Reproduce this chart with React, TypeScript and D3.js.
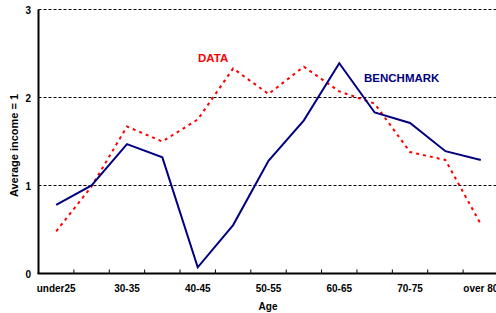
import React from "react";
import * as d3 from "d3";

const categories = ["under25", "25-30", "30-35", "35-40", "40-45", "45-50", "50-55", "55-60", "60-65", "65-70", "70-75", "75-80", "over 80"];
const benchmark = [0.78, 1.0, 1.47, 1.32, 0.07, 0.55, 1.28, 1.74, 2.39, 1.83, 1.71, 1.39, 1.29];
const dataSeries = [0.48, 0.99, 1.67, 1.5, 1.75, 2.33, 2.04, 2.35, 2.07, 1.93, 1.38, 1.29, 0.56];
const yTicks = [0, 1, 2, 3];
const shownLabels = ["under25", "30-35", "40-45", "50-55", "60-65", "70-75", "over 80"];

const W = 496, H = 313;
const left = 38.5, right = 498.5, top = 9.5, bottom = 273.5;
const font = "'Liberation Sans', Arial, sans-serif";

export default function App() {
  const x = d3.scaleBand<string>().domain(categories).range([left, right]).padding(0);
  const y = d3.scaleLinear().domain([0, 3]).range([bottom, top]);
  const cx = (c: string) => (x(c) as number) + x.bandwidth() / 2;
  const line = d3.line<number>().x((_, i) => cx(categories[i])).y((v) => y(v));
  const boundaries = categories.map((c) => (x(c) as number) + x.bandwidth()).slice(0, -1);

  return (
    <svg width={W} height={H} style={{ position: "absolute", left: 0, top: 0, background: "#fff" }} fontFamily={font}>
      {yTicks.filter((t) => t > 0).map((t) => (
        <line key={t} x1={left} x2={W} y1={y(t)} y2={y(t)} stroke="#000" strokeWidth={1} strokeDasharray="3,2" />
      ))}
      {yTicks.map((t) => (
        <text key={t} x={31} y={y(t) + 4} textAnchor="end" fontSize={10} fontWeight="bold">{t}</text>
      ))}
      {boundaries.map((b, i) => (
        <line key={i} x1={b} x2={b} y1={bottom} y2={bottom - 4} stroke="#000" strokeWidth={1} />
      ))}
      <path d={line(dataSeries) || ""} fill="none" stroke="#ff0000" strokeWidth={2} strokeDasharray="3,4" />
      <path d={line(benchmark) || ""} fill="none" stroke="#000080" strokeWidth={2} strokeLinejoin="miter" />
      <line x1={left} x2={left} y1={top} y2={bottom} stroke="#000" strokeWidth={2} />
      <line x1={left - 1} x2={W} y1={bottom} y2={bottom} stroke="#000" strokeWidth={2} />
      {shownLabels.map((c) => (
        <text key={c} x={cx(c)} y={292} textAnchor="middle" fontSize={10} fontWeight="bold">{c}</text>
      ))}
      <text x={268} y={310} textAnchor="middle" fontSize={10} fontWeight="bold">Age</text>
      <text transform={`translate(18,${(top + bottom) / 2 + 4}) rotate(-90)`} textAnchor="middle" fontSize={11} fontWeight="bold">Average income = 1</text>
      <text x={198} y={62} fontSize={11.5} fontWeight="bold" fill="#ff0000">DATA</text>
      <text x={364} y={82} fontSize={11.5} fontWeight="bold" fill="#000080">BENCHMARK</text>
    </svg>
  );
}
